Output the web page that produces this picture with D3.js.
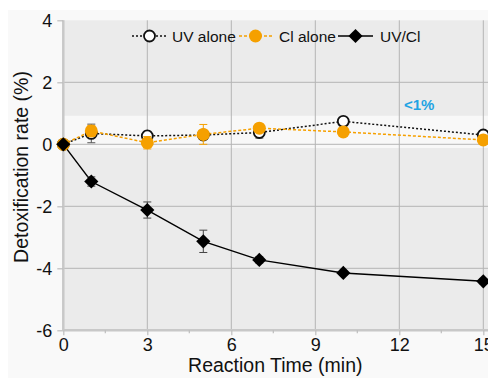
<!DOCTYPE html>
<html>
<head>
<meta charset="utf-8">
<script src="https://cdn.jsdelivr.net/npm/d3@7"></script>
<style>
  html, body { margin: 0; padding: 0; background: #ffffff; }
  svg { display: block; font-family: "Liberation Sans", Arial, sans-serif; }
</style>
</head>
<body>
<div id="chart"></div>
<script>
// data
const times = [0, 1, 3, 5, 7, 10, 15];
const uvAlone = [0, 0.35, 0.27, 0.3, 0.38, 0.74, 0.3];
const uvAloneErr = [0, 0.3, 0.15, 0.05, 0.18, 0.04, 0.08];
const clAlone = [0, 0.43, 0.05, 0.32, 0.52, 0.4, 0.14];
const clAloneErr = [0, 0.18, 0.2, 0.32, 0.13, 0.04, 0.1];
const uvCl = [0, -1.2, -2.12, -3.13, -3.73, -4.15, -4.42];
const uvClErr = [0, 0.15, 0.26, 0.36, 0.1, 0.08, 0.08];
const xTicks = [0, 3, 6, 9, 12, 15];
const yTicks = [-6, -4, -2, 0, 2, 4];

const width = 488, height = 378;
const margin = {left: 63, top: 21, right: -10, bottom: 47};

const svg = d3.select('#chart').append('svg')
    .attr('width', width).attr('height', height);

// outer light panel
svg.append('rect')
    .attr('x', 8).attr('y', 10)
    .attr('width', width - 8).attr('height', height - 10)
    .attr('fill', '#f9f9f9');

const x = d3.scaleLinear().domain([0, 15]).range([63.3, 483.3]);
const y = d3.scaleLinear().domain([-6, 4]).range([330.3, 20.3]);

// plot area
svg.append('rect')
    .attr('x', x(0)).attr('y', y(4))
    .attr('width', width - x(0)).attr('height', y(-6) - y(4))
    .attr('fill', '#ebebeb');

// the "<1%" band
svg.append('rect')
    .attr('x', x(0)).attr('y', y(0.92))
    .attr('width', width - x(0)).attr('height', y(-0.12) - y(0.92))
    .attr('fill', '#f8f8f8');

// grid
const grid = svg.append('g');
grid.selectAll('line.gx').data(xTicks.filter(d => d > 0))
    .join('line').attr('class', 'gx')
    .attr('x1', d => x(d)).attr('x2', d => x(d))
    .attr('y1', y(4)).attr('y2', y(-6))
    .attr('stroke', '#b4b4b4').attr('stroke-width', 1);
grid.selectAll('line.gy').data(yTicks.filter(d => d > -6 && d < 4))
    .join('line').attr('class', 'gy')
    .attr('x1', x(0)).attr('x2', width)
    .attr('y1', d => y(d)).attr('y2', d => y(d))
    .attr('stroke', '#b4b4b4').attr('stroke-width', 1);

// axes
const xAxis = svg.append('g')
    .attr('transform', `translate(0,${y(-6)})`)
    .call(d3.axisBottom(x).tickValues(xTicks).tickSize(5).tickPadding(3).tickFormat(d3.format('d')));
const yAxis = svg.append('g')
    .attr('transform', `translate(${x(0)},0)`)
    .call(d3.axisLeft(y).tickValues(yTicks).tickSize(6).tickPadding(5).tickFormat(d => d));

[xAxis, yAxis].forEach(ax => {
  ax.select('.domain').attr('stroke', '#c8c8c8').attr('stroke-width', 2.5);
  ax.selectAll('.tick line').attr('stroke', '#bdbdbd').attr('stroke-width', 1.2);
  ax.selectAll('.tick text').attr('fill', '#111').style('font-size', '18px')
    .style('font-family', '"Liberation Sans", Arial, sans-serif');
});
yAxis.selectAll('.tick text').attr('dy', '0.36em');
xAxis.select('.domain').attr('d', `M${x(0)},0H${width}`);
yAxis.select('.domain').attr('d', `M0,${y(4)}V${y(-6)}`);

// minor x ticks
xAxis.selectAll('line.minor').data(d3.range(1.5, 15, 3))
    .join('line').attr('class', 'minor')
    .attr('x1', d => x(d)).attr('x2', d => x(d))
    .attr('y1', 0).attr('y2', 3)
    .attr('stroke', '#bdbdbd').attr('stroke-width', 1.2);

// axis titles
svg.append('text')
    .attr('x', (x(0) + x(15)) / 2 + 2).attr('y', 372)
    .attr('text-anchor', 'middle')
    .style('font-size', '19.5px').attr('fill', '#111')
    .text('Reaction Time (min)');
svg.append('text')
    .attr('transform', `translate(28,167) rotate(-90)`)
    .attr('text-anchor', 'middle')
    .style('font-size', '19.5px').attr('fill', '#111')
    .text('Detoxification rate (%)');

// "<1%" label
svg.append('text')
    .attr('x', 404).attr('y', 110)
    .style('font-size', '15px').style('font-weight', 'bold')
    .attr('fill', '#1fa3e3')
    .text('<1%');

// series
const series = [
  {name: 'UV alone', vals: uvAlone, err: uvAloneErr, color: '#111', errColor: '#555',
   dash: '2,2', marker: 'circle', fill: '#ffffff', r: 5.5},
  {name: 'Cl alone', vals: clAlone, err: clAloneErr, color: '#f5a000', errColor: '#f5a000',
   dash: '3,2', marker: 'circle', fill: '#f5a000', r: 6.5},
  {name: 'UV/Cl', vals: uvCl, err: uvClErr, color: '#000', errColor: '#444',
   dash: null, marker: 'diamond', fill: '#000', r: 8}
];

const line = d3.line().x(d => x(d[0])).y(d => y(d[1]));
const plot = svg.append('g');

function drawMarker(g, s, cx, cy) {
  if (s.marker === 'circle') {
    g.append('circle').attr('cx', cx).attr('cy', cy).attr('r', s.r)
      .attr('fill', s.fill).attr('stroke', s.marker === 'circle' && s.fill === '#ffffff' ? '#111' : 'none')
      .attr('stroke-width', 1.8);
  } else {
    g.append('path')
      .attr('d', d3.symbol().type(d3.symbolDiamond2).size(s.r * s.r * 2)())
      .attr('transform', `translate(${cx},${cy}) rotate(0)`)
      .attr('fill', s.fill);
  }
}

// lines first
series.forEach(s => {
  plot.append('path')
    .datum(times.map((t, i) => [t, s.vals[i]]))
    .attr('d', line)
    .attr('fill', 'none')
    .attr('stroke', s.color)
    .attr('stroke-width', s.dash ? 1.5 : 1.4)
    .attr('stroke-dasharray', s.dash);
});

// error bars and markers
series.forEach(s => {
  const g = plot.append('g');
  times.forEach((t, i) => {
    const e = s.err[i];
    if (e > 0) {
      const cx = x(t);
      g.append('line').attr('x1', cx).attr('x2', cx)
        .attr('y1', y(s.vals[i] + e)).attr('y2', y(s.vals[i] - e))
        .attr('stroke', s.errColor).attr('stroke-width', 1);
      [s.vals[i] + e, s.vals[i] - e].forEach(v => {
        g.append('line').attr('x1', cx - 4).attr('x2', cx + 4)
          .attr('y1', y(v)).attr('y2', y(v))
          .attr('stroke', s.errColor).attr('stroke-width', 1);
      });
    }
  });
  times.forEach((t, i) => drawMarker(g, s, x(t), y(s.vals[i])));
});

// legend
const legend = svg.append('g');
const legendY = 36;
const legendItems = [
  {s: series[0], x1: 132, x2: 167, tx: 172},
  {s: series[1], x1: 239, x2: 272, tx: 279},
  {s: series[2], x1: 338, x2: 373, tx: 380}
];
legendItems.forEach(it => {
  legend.append('line')
    .attr('x1', it.x1).attr('x2', it.x2)
    .attr('y1', legendY).attr('y2', legendY)
    .attr('stroke', it.s.color).attr('stroke-width', 1.5)
    .attr('stroke-dasharray', it.s.dash);
  drawMarker(legend, it.s, (it.x1 + it.x2) / 2, legendY);
  legend.append('text')
    .attr('x', it.tx).attr('y', legendY).attr('dy', '0.36em')
    .style('font-size', '15.5px').attr('fill', '#111')
    .text(it.s.name);
});
</script>
</body>
</html>
